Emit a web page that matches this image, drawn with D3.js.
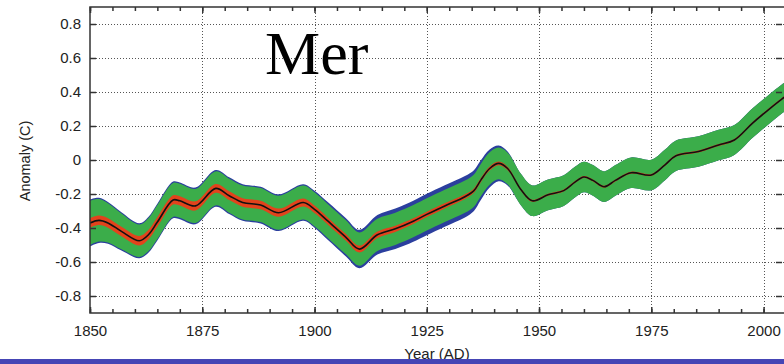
<!DOCTYPE html>
<html>
<head>
<meta charset="utf-8">
<script src="https://cdn.jsdelivr.net/npm/d3@7/dist/d3.min.js"></script>
<style>
  html, body { margin: 0; padding: 0; background: #fff; }
  svg { display: block; }
</style>
</head>
<body>
<svg id="chart" width="784" height="364"></svg>
<script>
// ---- data ----
const years = [1850, 1852, 1854, 1857, 1861, 1863, 1865, 1868.5, 1870, 1873.5, 1878, 1881, 1884, 1888, 1892, 1897.5, 1900, 1903, 1907, 1910, 1914, 1918, 1922, 1925, 1929, 1933.5, 1935.5, 1937, 1939, 1941, 1943, 1946, 1948.5, 1952, 1955.5, 1958, 1960, 1962, 1964.5, 1967, 1970.5, 1975, 1978, 1980.5, 1985.5, 1990, 1993.5, 1997.5, 2001, 2004, 2005];
const anomaly = [-0.37, -0.355, -0.37, -0.42, -0.475, -0.44, -0.365, -0.235, -0.24, -0.27, -0.167, -0.21, -0.25, -0.265, -0.31, -0.25, -0.29, -0.36, -0.455, -0.524, -0.44, -0.405, -0.36, -0.32, -0.27, -0.216, -0.18, -0.12, -0.05, -0.02, -0.05, -0.175, -0.24, -0.205, -0.18, -0.13, -0.10, -0.12, -0.157, -0.12, -0.075, -0.088, -0.03, 0.025, 0.05, 0.088, 0.118, 0.216, 0.294, 0.357, 0.375];
// half-widths of the uncertainty bands at the same years
const greenHalf = [0.13, 0.125, 0.115, 0.105, 0.095, 0.097, 0.1, 0.1, 0.1, 0.1, 0.1, 0.1, 0.1, 0.1, 0.1, 0.1, 0.1, 0.1, 0.1, 0.098, 0.095, 0.095, 0.095, 0.095, 0.095, 0.095, 0.095, 0.095, 0.095, 0.093, 0.093, 0.092, 0.09, 0.09, 0.09, 0.09, 0.09, 0.09, 0.09, 0.09, 0.09, 0.09, 0.09, 0.09, 0.09, 0.09, 0.088, 0.087, 0.086, 0.085, 0.085];
const blueHalf = [0.138, 0.133, 0.123, 0.113, 0.103, 0.105, 0.108, 0.108, 0.108, 0.108, 0.108, 0.108, 0.108, 0.108, 0.108, 0.108, 0.109, 0.111, 0.113, 0.113, 0.116, 0.119, 0.121, 0.122, 0.122, 0.122, 0.12, 0.117, 0.112, 0.105, 0.1, 0.092, 0.09, 0.09, 0.09, 0.09, 0.09, 0.09, 0.09, 0.09, 0.09, 0.09, 0.09, 0.09, 0.09, 0.09, 0.088, 0.087, 0.086, 0.085, 0.085];
const redHalf = [0.028, 0.028, 0.028, 0.028, 0.028, 0.028, 0.028, 0.027, 0.027, 0.027, 0.026, 0.026, 0.025, 0.025, 0.024, 0.024, 0.022, 0.021, 0.02, 0.02, 0.019, 0.018, 0.017, 0.016, 0.015, 0.014, 0.013, 0.012, 0.012, 0.011, 0.01, 0.007, 0.006, 0.006, 0.006, 0.006, 0.006, 0.006, 0.006, 0.006, 0.006, 0.006, 0.006, 0.006, 0.006, 0.006, 0.006, 0.006, 0.006, 0.006, 0.006];

const yTicks = [-0.8, -0.6, -0.4, -0.2, 0, 0.2, 0.4, 0.6, 0.8];
const yTickLabels = ["-0.8", "-0.6", "-0.4", "-0.2", "0", "0.2", "0.4", "0.6", "0.8"];
const xTicks = [1850, 1875, 1900, 1925, 1950, 1975, 2000];
const xTickLabels = ["1850", "1875", "1900", "1925", "1950", "1975", "2000"];
const xMinor = d3.range(1850, 2006, 5);
const titleText = "Mer";
const xTitle = "Year (AD)";
const yTitle = "Anomaly (C)";

// ---- layout ----
const svg = d3.select("#chart");
const L = 90, R = 786, T = 7, B = 313;
const x = d3.scaleLinear().domain([1850, 2005]).range([L, R]);
const y = d3.scaleLinear().domain([-0.9, 0.9]).range([B, T]);

const data = years.map((yr, i) => ({yr, v: anomaly[i], g: greenHalf[i], b: blueHalf[i], r: redHalf[i]}));

svg.append("defs").append("clipPath").attr("id", "clip")
  .append("rect").attr("x", L).attr("y", T).attr("width", R - L).attr("height", B - T);

// grid
const grid = svg.append("g").attr("stroke", "#555").attr("stroke-width", 1).attr("stroke-dasharray", "1,2");
grid.selectAll("line.h").data(yTicks).join("line")
  .attr("x1", L).attr("x2", R).attr("y1", d => y(d) + 0.5).attr("y2", d => y(d) + 0.5);
grid.selectAll("line.v").data(xTicks.filter(d => d > 1850)).join("line")
  .attr("y1", T).attr("y2", B).attr("x1", d => Math.round(x(d)) + 0.5).attr("x2", d => Math.round(x(d)) + 0.5);

// bands
const plot = svg.append("g").attr("clip-path", "url(#clip)");
const curve = d3.curveCatmullRom.alpha(0.5);
const band = key => d3.area().curve(curve)
  .x(d => x(d.yr)).y0(d => y(d.v - d[key])).y1(d => y(d.v + d[key]));
plot.append("path").datum(data).attr("d", band("b")).attr("fill", "#2b3f9e");
plot.append("path").datum(data).attr("d", band("g")).attr("fill", "#3bad4a");
plot.append("path").datum(data).attr("d", band("r")).attr("fill", "#e2431c");
plot.append("path").datum(data)
  .attr("d", d3.line().curve(curve).x(d => x(d.yr)).y(d => y(d.v)))
  .attr("fill", "none").attr("stroke", "#111").attr("stroke-width", 1.6);

// frame
const frame = svg.append("g").attr("stroke", "#333").attr("stroke-width", 1.5).attr("fill", "none");
frame.append("path").attr("d", `M${R},${T}H${L}V${B}H${R}`);

// axes ticks via d3 axes (inward)
const xb = svg.append("g").attr("transform", `translate(0,${B})`)
  .call(d3.axisBottom(x).tickValues(xMinor).tickSize(-4).tickFormat(""));
const xt = svg.append("g").attr("transform", `translate(0,${T})`)
  .call(d3.axisTop(x).tickValues(xMinor).tickSize(-4).tickFormat(""));
const xbm = svg.append("g").attr("transform", `translate(0,${B})`)
  .call(d3.axisBottom(x).tickValues(xTicks).tickSize(-6).tickFormat((d, i) => xTickLabels[i]).tickPadding(12));
const xtm = svg.append("g").attr("transform", `translate(0,${T})`)
  .call(d3.axisTop(x).tickValues(xTicks).tickSize(-6).tickFormat(""));
const yl = svg.append("g").attr("transform", `translate(${L},0)`)
  .call(d3.axisLeft(y).tickValues(yTicks).tickSize(-6).tickFormat((d, i) => yTickLabels[i]).tickPadding(9));
const yr = svg.append("g").attr("transform", `translate(${R - 4},0)`)
  .call(d3.axisRight(y).tickValues(yTicks).tickSize(-6).tickFormat(""));
[xb, xt, xbm, xtm, yl, yr].forEach(g => {
  g.select(".domain").remove();
  g.selectAll(".tick line").attr("stroke", "#333").attr("stroke-width", 1.5);
  g.selectAll(".tick text").attr("fill", "#222")
    .style("font-family", "'Liberation Sans', Arial, sans-serif").style("font-size", "15px");
});
xbm.selectAll(".tick text").attr("dy", "0.71em");

// titles
svg.append("text").attr("x", 265).attr("y", 73.5).text(titleText)
  .style("font-family", "'Liberation Serif', 'Times New Roman', serif").style("font-size", "62px").attr("fill", "#000");
svg.append("text").attr("transform", "translate(30,161) rotate(-90)").attr("text-anchor", "middle")
  .text(yTitle).attr("fill", "#222")
  .style("font-family", "'Liberation Sans', Arial, sans-serif").style("font-size", "14.5px");
svg.append("text").attr("x", 437).attr("y", 358.5).attr("text-anchor", "middle")
  .text(xTitle).attr("fill", "#222")
  .style("font-family", "'Liberation Sans', Arial, sans-serif").style("font-size", "15px");

// bottom blue bar
svg.append("rect").attr("x", 0).attr("y", 359).attr("width", 784).attr("height", 5).attr("fill", "#4545b5");
</script>
</body>
</html>
